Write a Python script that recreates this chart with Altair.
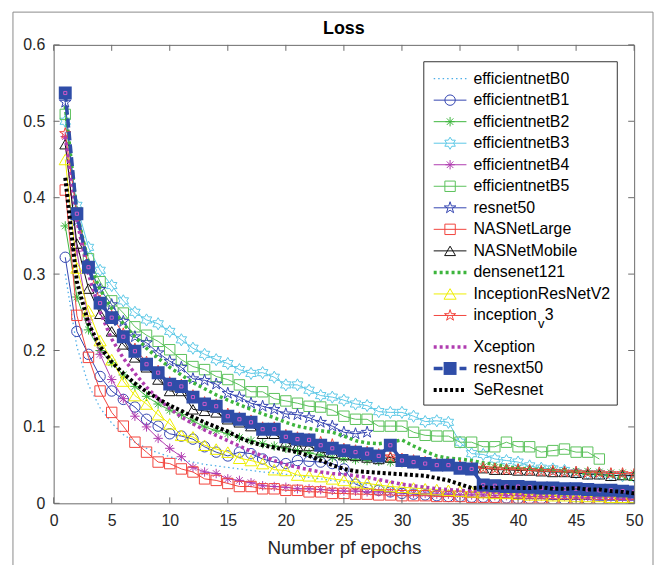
import altair as alt
import pandas as pd

# ---------------- data ----------------
models = ["efficientnetB0", "efficientnetB1", "efficientnetB2", "efficientnetB3",
          "efficientnetB4", "efficientnetB5", "resnet50", "NASNetLarge",
          "NASNetMobile", "densenet121", "InceptionResNetV2", "inception_v3",
          "Xception", "resnext50", "SeResnet"]

x_ticks = [0, 5, 10, 15, 20, 25, 30, 35, 40, 45, 50]
y_ticks = [0, 0.1, 0.2, 0.3, 0.4, 0.5, 0.6]

loss_b0 = [0.300, 0.205, 0.155, 0.125, 0.105, 0.090, 0.080, 0.072, 0.066, 0.061,
           0.057, 0.054, 0.051, 0.049, 0.047, 0.045, 0.043, 0.041, 0.040, 0.038,
           0.036, 0.034, 0.032, 0.030, 0.028, 0.026, 0.024, 0.022, 0.020, 0.018,
           0.016, 0.015, 0.014, 0.013, 0.012, 0.011, 0.011, 0.010, 0.010, 0.009,
           0.009, 0.008, 0.008, 0.008, 0.007, 0.007, 0.007, 0.006, 0.006, 0.006]
loss_b1 = [0.322, 0.225, 0.195, 0.166, 0.147, 0.136, 0.126, 0.110, 0.101, 0.091,
           0.088, 0.084, 0.074, 0.067, 0.062, 0.067, 0.065, 0.058, 0.054, 0.052,
           0.056, 0.055, 0.054, 0.052, 0.045, 0.025, 0.020, 0.017, 0.015, 0.013,
           0.012, 0.011, 0.010, 0.009, 0.009, 0.008, 0.008, 0.007, 0.007, 0.006,
           0.006, 0.006, 0.005, 0.005, 0.005, 0.005, 0.004, 0.004, 0.004, 0.004]
loss_b2 = [0.363, 0.270, 0.227, 0.200, 0.184, 0.168, 0.153, 0.140, 0.130, 0.122,
           0.116, 0.108, 0.100, 0.095, 0.091, 0.086, 0.082, 0.078, 0.075, 0.072,
           0.069, 0.066, 0.063, 0.060, 0.058, 0.057, 0.056, 0.055, 0.054, 0.053,
           0.052, 0.051, 0.050, 0.050, 0.049, 0.048, 0.048, 0.047, 0.046, 0.046,
           0.045, 0.044, 0.044, 0.043, 0.042, 0.042, 0.041, 0.040, 0.040, 0.039]
loss_b3 = [0.500, 0.390, 0.335, 0.305, 0.285, 0.265, 0.250, 0.240, 0.235, 0.225,
           0.214, 0.203, 0.195, 0.188, 0.183, 0.175, 0.170, 0.171, 0.165, 0.155,
           0.155, 0.148, 0.141, 0.139, 0.135, 0.130, 0.128, 0.120, 0.119, 0.119,
           0.114, 0.107, 0.108, 0.106, 0.080, 0.065, 0.064, 0.058, 0.056, 0.054,
           0.049, 0.046, 0.045, 0.043, 0.040, 0.039, 0.039, 0.037, 0.036, 0.035]
loss_b4 = [0.480, 0.330, 0.240, 0.195, 0.162, 0.137, 0.114, 0.100, 0.085, 0.072,
           0.061, 0.047, 0.041, 0.039, 0.032, 0.030, 0.027, 0.023, 0.022, 0.021,
           0.019, 0.019, 0.018, 0.017, 0.016, 0.016, 0.015, 0.015, 0.014, 0.014,
           0.013, 0.013, 0.012, 0.012, 0.011, 0.011, 0.011, 0.010, 0.010, 0.010,
           0.009, 0.009, 0.009, 0.009, 0.008, 0.008, 0.008, 0.008, 0.007, 0.007]
loss_b5 = [0.509, 0.380, 0.320, 0.290, 0.265, 0.249, 0.231, 0.220, 0.212, 0.201,
           0.188, 0.179, 0.175, 0.166, 0.162, 0.155, 0.146, 0.146, 0.137, 0.134,
           0.131, 0.127, 0.126, 0.122, 0.114, 0.110, 0.110, 0.101, 0.101, 0.101,
           0.093, 0.089, 0.088, 0.088, 0.080, 0.080, 0.074, 0.074, 0.080, 0.074,
           0.074, 0.067, 0.069, 0.071, 0.067, 0.067, 0.058]
loss_resnet50 = [0.525, 0.370, 0.310, 0.280, 0.260, 0.238, 0.218, 0.210, 0.197, 0.186,
                 0.178, 0.163, 0.161, 0.156, 0.144, 0.139, 0.131, 0.127, 0.123, 0.117,
                 0.116, 0.112, 0.106, 0.101, 0.093, 0.091, 0.093]
loss_nasnet_large = [0.410, 0.246, 0.191, 0.147, 0.119, 0.101, 0.080, 0.067, 0.054, 0.052,
                     0.045, 0.041, 0.032, 0.030, 0.026, 0.022, 0.022, 0.019, 0.019, 0.017,
                     0.017, 0.015, 0.015, 0.013, 0.013, 0.012, 0.012, 0.011, 0.011, 0.010,
                     0.010, 0.010, 0.009, 0.009, 0.009, 0.008, 0.008, 0.008, 0.007, 0.007,
                     0.007, 0.007, 0.006, 0.006, 0.006, 0.006, 0.005, 0.005, 0.005, 0.005]
loss_nasnet_mobile = [0.470, 0.340, 0.281, 0.248, 0.225, 0.208, 0.191, 0.178, 0.162, 0.147,
                      0.147, 0.123, 0.121, 0.119, 0.110, 0.106, 0.101, 0.091, 0.091, 0.080,
                      0.075, 0.075, 0.067, 0.066, 0.063, 0.062, 0.060, 0.058, 0.060, 0.055,
                      0.053, 0.052, 0.050, 0.050, 0.048, 0.047, 0.046, 0.044, 0.044, 0.043,
                      0.043, 0.042, 0.041, 0.041, 0.040, 0.038, 0.038, 0.036, 0.037, 0.036]
loss_densenet121 = [0.520, 0.380, 0.315, 0.280, 0.255, 0.235, 0.218, 0.203, 0.190, 0.178,
                    0.168, 0.158, 0.150, 0.142, 0.135, 0.129, 0.123, 0.117, 0.112, 0.106,
                    0.101, 0.098, 0.095, 0.093, 0.088, 0.082, 0.079, 0.078, 0.080, 0.083,
                    0.075, 0.068, 0.062, 0.059, 0.058, 0.056, 0.053, 0.051, 0.048, 0.046,
                    0.045, 0.044, 0.043, 0.042, 0.041, 0.039, 0.038, 0.036, 0.033, 0.031]
loss_incresv2 = [0.450, 0.308, 0.252, 0.213, 0.188, 0.160, 0.141, 0.130, 0.116, 0.104,
                 0.089, 0.087, 0.076, 0.071, 0.067, 0.059, 0.056, 0.052, 0.044, 0.043,
                 0.037, 0.036, 0.035, 0.032, 0.030, 0.028, 0.026, 0.024, 0.022, 0.021,
                 0.020, 0.019, 0.018, 0.017, 0.016, 0.015, 0.014, 0.013, 0.013, 0.012,
                 0.011, 0.011, 0.010, 0.010, 0.009, 0.009, 0.009, 0.008, 0.008, 0.008]
loss_inception_v3 = [0.484, 0.380, 0.310, 0.265, 0.245, 0.222, 0.202, 0.185, 0.173, 0.158,
                     0.155, 0.141, 0.132, 0.129, 0.117, 0.112, 0.108, 0.099, 0.099, 0.089,
                     0.086, 0.084, 0.080, 0.077, 0.071, 0.069, 0.067, 0.064, 0.061, 0.058,
                     0.056, 0.054, 0.052, 0.051, 0.049, 0.047, 0.046, 0.045, 0.044, 0.044,
                     0.043, 0.042, 0.042, 0.041, 0.041, 0.040, 0.040, 0.039, 0.039, 0.038]
loss_xception = [0.480, 0.370, 0.300, 0.250, 0.215, 0.190, 0.170, 0.152, 0.137, 0.124,
                 0.113, 0.104, 0.096, 0.089, 0.082, 0.075, 0.068, 0.062, 0.056, 0.051,
                 0.047, 0.044, 0.041, 0.039, 0.038, 0.036, 0.034, 0.031, 0.028, 0.025,
                 0.023, 0.021, 0.019, 0.018, 0.017, 0.016, 0.015, 0.014, 0.013, 0.012,
                 0.011, 0.010, 0.009, 0.009, 0.008, 0.008, 0.007, 0.007, 0.006, 0.006]
loss_resnext50 = [0.537, 0.379, 0.309, 0.262, 0.243, 0.218, 0.199, 0.182, 0.171, 0.156,
                  0.153, 0.139, 0.130, 0.127, 0.114, 0.110, 0.106, 0.097, 0.097, 0.087,
                  0.084, 0.083, 0.076, 0.072, 0.069, 0.067, 0.065, 0.062, 0.076, 0.056,
                  0.054, 0.052, 0.050, 0.050, 0.046, 0.045, 0.024, 0.023, 0.022, 0.022,
                  0.021, 0.020, 0.020, 0.019, 0.019, 0.018, 0.017, 0.017, 0.016, 0.015]
loss_seresnet = [0.426, 0.290, 0.235, 0.205, 0.185, 0.170, 0.157, 0.146, 0.137, 0.128,
                 0.121, 0.113, 0.106, 0.100, 0.094, 0.086, 0.080, 0.076, 0.073, 0.070,
                 0.067, 0.062, 0.056, 0.050, 0.045, 0.042, 0.041, 0.040, 0.039, 0.038,
                 0.037, 0.036, 0.033, 0.030, 0.025, 0.020, 0.021, 0.020, 0.021, 0.020,
                 0.020, 0.021, 0.019, 0.019, 0.020, 0.018, 0.018, 0.016, 0.015, 0.013]

series = {
    "efficientnetB0": loss_b0, "efficientnetB1": loss_b1, "efficientnetB2": loss_b2,
    "efficientnetB3": loss_b3, "efficientnetB4": loss_b4, "efficientnetB5": loss_b5,
    "resnet50": loss_resnet50, "NASNetLarge": loss_nasnet_large,
    "NASNetMobile": loss_nasnet_mobile, "densenet121": loss_densenet121,
    "InceptionResNetV2": loss_incresv2, "inception_v3": loss_inception_v3,
    "Xception": loss_xception, "resnext50": loss_resnext50, "SeResnet": loss_seresnet,
}

# ---------------- styles ----------------
STAR5 = ("M0,-1L0.225,-0.309L0.951,-0.309L0.363,0.118L0.588,0.809L0,0.382"
         "L-0.588,0.809L-0.363,0.118L-0.951,-0.309L-0.225,-0.309Z")
STAR6 = ("M0,-1L0.289,-0.5L0.866,-0.5L0.577,0L0.866,0.5L0.289,0.5L0,1"
         "L-0.289,0.5L-0.866,0.5L-0.577,0L-0.866,-0.5L-0.289,-0.5Z")
ASTER = "M0,-1L0,1M-1,0L1,0M-0.7,-0.7L0.7,0.7M-0.7,0.7L0.7,-0.7"

styles = {
    "efficientnetB0": dict(color="#4DAEE8", width=1.3, dash=[1.5, 3], shape=None, size=0),
    "efficientnetB1": dict(color="#3345B0", width=1, dash=None, shape="circle", size=110),
    "efficientnetB2": dict(color="#3DB53D", width=1, dash=None, shape=ASTER, size=90),
    "efficientnetB3": dict(color="#5CC8E6", width=1, dash=None, shape=STAR6, size=150),
    "efficientnetB4": dict(color="#B03CB0", width=1, dash=None, shape=ASTER, size=90),
    "efficientnetB5": dict(color="#5CC25C", width=1, dash=None, shape="square", size=110),
    "resnet50": dict(color="#3345B0", width=1, dash=None, shape=STAR5, size=150),
    "NASNetLarge": dict(color="#F2453D", width=1, dash=None, shape="square", size=110),
    "NASNetMobile": dict(color="#111111", width=1, dash=None, shape="triangle-up", size=120),
    "densenet121": dict(color="#3DB53D", width=3.5, dash=[3, 3], shape=None, size=0),
    "InceptionResNetV2": dict(color="#EEEE00", width=1, dash=None, shape="triangle-up", size=150),
    "inception_v3": dict(color="#F2453D", width=1, dash=None, shape=STAR5, size=140),
    "Xception": dict(color="#B03CB0", width=3.5, dash=[3, 3], shape=None, size=0),
    "resnext50": dict(color="#2F4DA8", width=3.5, dash=[9, 4], shape="square", size=170),
    "SeResnet": dict(color="#000000", width=4, dash=[3, 2.5], shape=None, size=0),
}

rows = []
for m in models:
    for i, v in enumerate(series[m]):
        rows.append({"model": m, "epoch": i + 1, "loss": v})
df = pd.DataFrame(rows)

FONT = "Liberation Sans"
TXT = "#262626"
W, H = 585, 462

xscale = alt.Scale(domain=[0, 50], nice=False, zero=False)
yscale = alt.Scale(domain=[0, 0.6], nice=False, zero=False)
xaxis = alt.Axis(values=x_ticks, title="Number pf epochs", ticks=False, domain=False,
                 grid=False, labelFontSize=16, labelPadding=9, labelColor=TXT,
                 labelFont=FONT, titleFont=FONT, titleFontSize=19, titleColor=TXT,
                 titleFontWeight="normal", titlePadding=11, labelFlush=False)
yaxis = alt.Axis(values=y_ticks, title=None, format="~g", ticks=False, domain=False,
                 grid=False, labelFontSize=16, labelPadding=9, labelColor=TXT,
                 labelFont=FONT, labelFlush=False)

X = alt.X("epoch:Q", scale=xscale, axis=xaxis)
Y = alt.Y("loss:Q", scale=yscale, axis=yaxis)

layers = []
base = alt.Chart(df)
for m in models:
    st = styles[m]
    sub = base.transform_filter(alt.datum.model == m)
    line_kw = dict(color=st["color"], strokeWidth=st["width"], clip=True)
    if st["dash"]:
        line_kw["strokeDash"] = st["dash"]
    layers.append(sub.mark_line(**line_kw).encode(x=X, y=Y))
    if st["shape"]:
        if m == "resnext50":
            layers.append(sub.mark_point(shape="square", filled=True, color=st["color"],
                                         size=st["size"], opacity=1, clip=True).encode(x=X, y=Y))
            layers.append(sub.mark_point(shape="square", filled=False, color="#D05AC8",
                                         size=10, opacity=1, strokeWidth=1, clip=True).encode(x=X, y=Y))
        else:
            layers.append(sub.mark_point(shape=st["shape"], filled=False, color=st["color"],
                                         size=st["size"], opacity=1, strokeWidth=1,
                                         clip=True).encode(x=X, y=Y))

# inward ticks (MATLAB style box)
xt = pd.DataFrame({"epoch": x_ticks})
yt = pd.DataFrame({"loss": y_ticks})
tick_col = "#6b6b6b"
layers.append(alt.Chart(xt).mark_rule(color=tick_col).encode(
    x=alt.X("epoch:Q", scale=xscale, axis=xaxis), y=alt.value(H), y2=alt.value(H - 6)))
layers.append(alt.Chart(xt).mark_rule(color=tick_col).encode(
    x=alt.X("epoch:Q", scale=xscale, axis=xaxis), y=alt.value(0), y2=alt.value(6)))
layers.append(alt.Chart(yt).mark_rule(color=tick_col).encode(
    y=alt.Y("loss:Q", scale=yscale, axis=yaxis), x=alt.value(0), x2=alt.value(6)))
layers.append(alt.Chart(yt).mark_rule(color=tick_col).encode(
    y=alt.Y("loss:Q", scale=yscale, axis=yaxis), x=alt.value(W), x2=alt.value(W - 6)))

# legend (drawn inside the plot, MATLAB style)
one = pd.DataFrame({"k": [0]})
LX0, LX1, LY0, LY1 = 373, 568, 17, 363
layers.append(alt.Chart(one).mark_rect(fill="white", stroke="#333333", strokeWidth=1).encode(
    x=alt.value(LX0), x2=alt.value(LX1), y=alt.value(LY0), y2=alt.value(LY1)))
leg_df = pd.DataFrame({"name": models})
for i, m in enumerate(models):
    st = styles[m]
    ly = 34 + 21.7 * i + (10 if i >= 12 else 0)
    ldat = alt.Chart(leg_df).transform_filter(alt.datum.name == m)
    rk = dict(color=st["color"], strokeWidth=st["width"])
    if st["dash"]:
        rk["strokeDash"] = st["dash"]
    layers.append(ldat.mark_rule(**rk).encode(x=alt.value(383), x2=alt.value(416), y=alt.value(ly)))
    if st["shape"]:
        if m == "resnext50":
            layers.append(ldat.mark_point(shape="square", filled=True, color=st["color"],
                                          size=st["size"], opacity=1).encode(
                x=alt.value(399.5), y=alt.value(ly)))
        else:
            layers.append(ldat.mark_point(shape=st["shape"], filled=False, color=st["color"],
                                          size=st["size"], opacity=1, strokeWidth=1).encode(
                x=alt.value(399.5), y=alt.value(ly)))
    if m == "inception_v3":
        layers.append(ldat.mark_text(align="left", baseline="middle", font=FONT, fontSize=16,
                                     color="#000000").encode(
            x=alt.value(423), y=alt.value(ly), text=alt.value("inception")))
        layers.append(ldat.mark_text(align="left", baseline="middle", font=FONT, fontSize=13,
                                     color="#000000").encode(
            x=alt.value(488), y=alt.value(ly + 9), text=alt.value("v")))
        layers.append(ldat.mark_text(align="left", baseline="middle", font=FONT, fontSize=16,
                                     color="#000000").encode(
            x=alt.value(495), y=alt.value(ly), text=alt.value("3")))
    else:
        layers.append(ldat.mark_text(align="left", baseline="middle", font=FONT, fontSize=16,
                                     color="#000000").encode(
            x=alt.value(423), y=alt.value(ly), text="name:N"))

# chart title, drawn as text above the plot box
layers.append(alt.Chart(one).mark_text(align="center", baseline="middle", font=FONT,
                                       fontSize=18, fontWeight="bold", color="#000000").encode(
    x=alt.value(W / 2), y=alt.value(-16), text=alt.value("Loss")))

# outer figure frame
layers.append(alt.Chart(one).mark_rect(fillOpacity=0, stroke="#8a8a8a", strokeWidth=1).encode(
    x=alt.value(-41), x2=alt.value(604), y=alt.value(-33), y2=alt.value(640)))

chart = alt.layer(*layers).properties(
    width=W, height=H,
    padding={"left": 46, "top": 35, "right": 20, "bottom": 60},
    autosize=alt.AutoSizeParams(type="none"),
).configure_view(stroke="#6b6b6b", strokeWidth=1)

chart.save("out.html", embed_options={"renderer": "svg", "actions": False})
